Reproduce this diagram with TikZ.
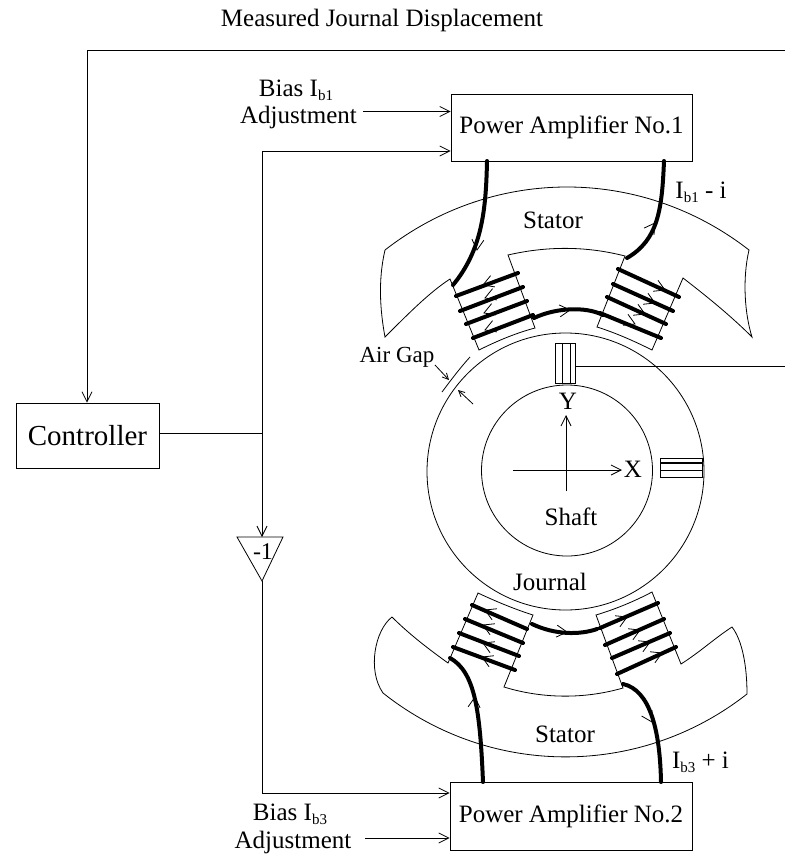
\documentclass[tikz,border=0pt]{standalone}
\usepackage{fontspec}
\setmainfont{Liberation Serif}
\usetikzlibrary{arrows.meta}
\newcommand\lowidx[1]{\raisebox{-.32ex}{\fontsize{15}{15}\selectfont #1}}
\newcommand\chev[3]{%
  \pgfmathsetmacro\chax{#1+12*cos(#3+150)}\pgfmathsetmacro\chay{#2+12*sin(#3+150)}%
  \pgfmathsetmacro\chbx{#1+12*cos(#3-150)}\pgfmathsetmacro\chby{#2+12*sin(#3-150)}%
  \draw[thinline] (\chax,\chay) -- (#1,#2) -- (\chbx,\chby);}
\tikzset{
  thinline/.style={line width=0.8pt,line join=miter},
  arr/.style={thinline,-{Straight Barb[length=10pt,width=10pt,line width=0.8pt]}},
  wire/.style={line width=4pt,line cap=round},
  lab/.style={font=\fontsize{25}{27}\selectfont,inner sep=0pt,align=center},
  boxn/.style={draw,thinline,inner sep=0pt,font=\fontsize{25}{27}\selectfont},
  sens/.style={draw,line width=1pt,fill=white}
}
\begin{document}
\begin{tikzpicture}[x=1pt,y=-1pt]
\useasboundingbox (0,0) rectangle (785,854);
% boxes
\node[boxn,minimum width=241pt,minimum height=67pt] (amp1) at (571.5,127.5) {Power Amplifier No.1};
\node[boxn,minimum width=242pt,minimum height=68pt] (amp2) at (571,816) {Power Amplifier No.2};
\node[boxn,minimum width=143pt,minimum height=65pt,font=\fontsize{29}{31}\selectfont] (ctrl) at (87.5,435.5) {Controller};
% triangle
\coordinate (ta) at (237,537); \coordinate (tb) at (283,537); \coordinate (tc) at (262,581); \coordinate (tt) at (262,537);
\draw[thinline] (ta) -- (tb) -- (tc) -- cycle;
\node[lab,font=\fontsize{24}{26}\selectfont] (neg) at (263,552) {-1};
% circles
\coordinate (cj) at (565.5,471.5);
\coordinate (cs) at (567,470.5);
\draw[thinline] (cj) circle[radius=138.5];
\draw[thinline] (cs) circle[radius=85.5];
% stators
\draw[thinline] (385,250) .. controls (493,166) and (641,166) .. (749,250)
  .. controls (742,280) and (745,315) .. (752,337)
  .. controls (730,315) and (705,295) .. (683,278)
  -- (652,350) .. controls (634,341) and (616,333) .. (597,327)
  -- (625,256) .. controls (586,246) and (547,246) .. (508,255)
  -- (535,328) .. controls (516,333) and (497,341) .. (479,350)
  -- (450,279) .. controls (430,292) and (410,312) .. (385,337)
  .. controls (380,310) and (378,280) .. (385,250);
\draw[thinline] (392,617) .. controls (375,630) and (367,670) .. (383,693)
  .. controls (490,778) and (640,778) .. (747,694)
  .. controls (747,665) and (742,640) .. (732,627)
  .. controls (715,638) and (700,652) .. (681,664)
  -- (652,592) .. controls (635,601) and (616,609) .. (596,615)
  -- (623,688) .. controls (585,699) and (543,699) .. (504,687)
  -- (533,615) .. controls (514,609) and (495,601) .. (478,593)
  -- (448,663) .. controls (430,650) and (410,635) .. (392,617);
% coils
\foreach \a/\b/\c/\d in {518/273/456/296,523/287/460/311,527/301/466/324,533/315/473/338,
  618/269/679/297,613/284/673/311,607/297/666/324,600/313/661/338,
  472/605/527/629,465/619/523/643,459/633/519/656,453/647/515/670,
  658/603/600/628,664/619/605/645,670/633/612/658,676/647/617/674}
  {\draw[wire] (\a,\b) -- (\c,\d);}
% wires
\coordinate (wa) at (487,161); \coordinate (wb) at (664,161);
\coordinate (wc) at (483,782); \coordinate (wd) at (661,782);
\draw[wire] (wa) .. controls (486,210) and (482,250) .. (453,285);
\draw[wire] (wb) .. controls (662,210) and (658,240) .. (627,258);
\draw[wire] (534,318) .. controls (555,308) and (585,306) .. (603,315);
\draw[wire] (450,658) .. controls (475,672) and (480,710) .. (wc);
\draw[wire] (623,684) .. controls (650,690) and (660,730) .. (wd);
\draw[wire] (532,624) .. controls (555,635) and (580,635) .. (597,629);
% chevrons on wires
\chev{477}{250}{95}
\chev{655}{223}{-55}
\chev{570}{310}{-5}
\chev{475}{697}{-85}
\chev{652}{722}{60}
\chev{567}{632}{5}
\foreach \x/\y in {483/285,485/298,484/313,485/330}{\chev{\x}{\y}{159}}
\foreach \x/\y in {665/290,655/303,645/314,635/324}{\chev{\x}{\y}{24}}
\foreach \x/\y in {485/610,483/625,483/643,482/657}{\chev{\x}{\y}{204}}
\foreach \x/\y in {627/617,640/630,650/642,662/653}{\chev{\x}{\y}{-24}}
% sensors
\node[sens,minimum width=20pt,minimum height=40pt,inner sep=0pt] (sv) at (565,363) {};
\draw[thinline] (562,343) -- (562,383) (570,343) -- (570,383);
\node[sens,minimum width=42pt,minimum height=19pt,inner sep=0pt] (sh) at (681,467.5) {};
\draw[line width=1.6pt] (660,463) -- (702,463);
\draw[thinline] (660,470) -- (702,470);
% axes
\draw[arr] (513,470) -- (622,470);
\draw[arr] (566,491) -- (566,415);
% feedback and signals
\coordinate (re) at (785,50); \coordinate (tl) at (87,50); \coordinate (rs) at (785,366);
\coordinate (jn) at (262,433); \coordinate (jt) at (262,151); \coordinate (jb) at (262,793);
\coordinate (ba) at (363,111.5); \coordinate (bb) at (365,838);
\draw[arr] (re) -- (tl) -- (ctrl.north -| tl);
\draw[thinline] (sv.east |- rs) -- (rs);
\draw[thinline] (ctrl.east |- jn) -- (jn);
\draw[arr] (jn) -- (jt) -- (jt -| amp1.west);
\draw[arr] (jn) -- (tt);
\draw[arr] (tc) -- (jb) -- (jb -| amp2.west);
\draw[arr] (ba) -- (ba -| amp1.west);
\draw[arr] (bb) -- (bb -| amp2.west);
% air gap
\coordinate (ga) at (470,357); \coordinate (gb) at (442,392);
\draw[thinline] (ga) .. controls (460,368) and (451,380) .. (gb);
\coordinate (gc) at (435,365); \coordinate (gd) at (449,380);
\coordinate (ge) at (473,404); \coordinate (gf) at (458,390);
\draw[thinline,-{Straight Barb[length=6pt,width=6pt,line width=0.8pt]}] (gc) -- (gd);
\draw[thinline,-{Straight Barb[length=6pt,width=6pt,line width=0.8pt]}] (ge) -- (gf);
% labels
\node[lab] (mjd) at (382,20) {Measured Journal Displacement};
\node[lab] (bi1) at (296,90) {Bias I\lowidx{b1}};
\node[lab] (ad1) at (298.5,117) {Adjustment};
\node[lab] (bi3) at (290,814) {Bias I\lowidx{b3}};
\node[lab] (ad3) at (293,842) {Adjustment};
\node[lab] (ib1) at (701,192) {I\lowidx{b1} - i};
\node[lab] (ib3) at (700.5,762) {I\lowidx{b3} + i};
\node[lab] (st1) at (553,220) {Stator};
\node[lab] (st2) at (565,734) {Stator};
\node[lab] (jou) at (550,582) {Journal};
\node[lab] (yy) at (568,401) {Y};
\node[lab] (xx) at (633,469) {X};
\node[lab] (sha) at (571,517) {Shaft};
\node[lab,font=\fontsize{23}{25}\selectfont] (air) at (397,357) {Air Gap};
\end{tikzpicture}
\end{document}
